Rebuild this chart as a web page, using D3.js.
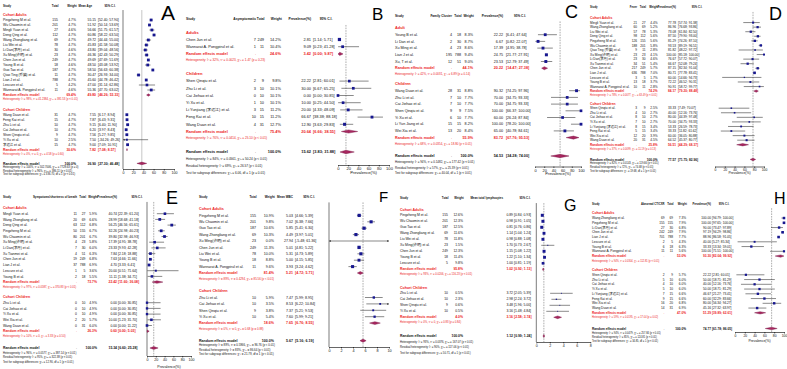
<!DOCTYPE html>
<html>
<head>
<meta charset="utf-8">
<script src="https://cdn.jsdelivr.net/npm/d3@7"></script>
<style>
  body { margin: 0; background: #fff; }
</style>
</head>
<body>
<svg id="fig" width="787" height="369"></svg>
<script>
// rows: [study, events, total, weight %, estimate, lower, upper]
const A_adults = [
  ["Pingzheng M et al.", null, 155, 4.7, 55.15, 52.40, 57.90],
  ["Wu Chaomin et al.", null, 201, 4.7, 51.92, 50.14, 53.69],
  ["Mingli Yuan et al.", null, 27, 4.6, 56.66, 51.75, 61.57],
  ["Deng Qing et al.", null, 112, 4.7, 60.86, 58.22, 63.50],
  ["Wang Zhongliang et al.", null, 69, 4.7, 49.72, 44.44, 55.00],
  ["Liu Wei et al.", null, 78, 4.7, 45.83, 41.58, 50.08],
  ["Li Dan(李丹) et al.", null, 30, 4.6, 43.80, 39.04, 48.56],
  ["Xu Ming(许明) et al.", null, 23, 4.7, 46.36, 42.43, 50.29],
  ["Chen Jun et al.", null, 249, 4.7, 49.69, 47.69, 51.69],
  ["Young B et al.", null, 18, 4.6, 48.50, 43.08, 53.92],
  ["Guo Tao et al.", null, 187, 4.7, 58.50, 56.63, 60.38],
  ["Qiao Ting (乔婷) et al.", null, 11, 4.7, 30.47, 26.93, 34.00],
  ["Lian J et al.", null, 788, 4.7, 45.60, 44.78, 46.42],
  ["Lescure et al.", null, 5, 4.2, 47.00, 31.14, 62.86],
  ["Wannarat A. Pongpirul et al.", null, 11, 4.6, 55.36, 47.70, 63.02]
];
const A_children = [
  ["Wang Duan et al.", null, 31, 4.7, 7.55, 6.17, 8.94],
  ["Feng Kai et al.", null, 15, 4.7, 7.87, 6.43, 9.31],
  ["Zhu Li et al.", null, 10, 4.7, 9.15, 6.40, 11.90],
  ["Cai Jiehao et al.", null, 10, 4.7, 6.20, 3.97, 8.43],
  ["Shen Qinqiu et al.", null, 9, 4.7, 7.56, 5.27, 9.85],
  ["Yi Xu et al.", null, 10, 2.5, 7.50, -34.26, 49.26],
  ["李运江 et al.", null, 15, 4.7, 9.00, 7.09, 10.91]
];
// random effects: [weight, est, lower, upper]
const A_re = [[69.4, 49.80, 46.26, 53.33], [30.6, 7.82, 7.08, 8.57], [100.0, 36.90, 27.30, 46.48]];
const A_het = [
  "Heterogeneity: I² = 98%, τ² = 41.2384, χ²₁₄ = 381.53 (p < 0.01)",
  "Heterogeneity: I² = 0%, τ² = 0, χ²₆ = 4.58 (p = 0.60)",
  "Heterogeneity: I² = 100%, τ² = 502.7006, χ²₂₁ = 7728.63 (p = 0)",
  "Residual heterogeneity: I² = 96%, χ²₂₀ = 386.11 (p < 0.01)",
  "Test for subgroup differences: χ²₁ = 336.70, df = 1 (p < 0.01)"
];

const B_adults = [
  ["Chen Jun et al.", 7, 249, 14.2, 2.81, 1.14, 5.71],
  ["Wannarat A. Pongpirul et al.", 1, 11, 10.4, 9.09, 0.23, 41.28]
];
const B_children = [
  ["Shen Qinqiu et al.", 2, 9, 9.8, 22.22, 2.81, 60.01],
  ["Zhu Li et al.", 3, 10, 10.1, 30.00, 6.67, 65.25],
  ["Cai Jiehao et al.", 0, 10, 10.1, 0.00, 0.00, 30.85],
  ["Yi Xu et al.", 1, 10, 10.1, 10.00, 0.25, 44.50],
  ["Li Yunjiang (李运江) et al.", 3, 15, 11.2, 20.00, 4.33, 48.09],
  ["Feng Kai et al.", 10, 15, 11.2, 66.67, 38.38, 88.18],
  ["Wang Duan et al.", 4, 31, 12.7, 12.90, 3.63, 29.83]
];
const B_re = [[24.6, 3.42, 0.00, 9.87], [75.4, 20.64, 6.66, 38.55], [100.0, 15.62, 3.83, 31.88]];
const B_het = [
  "Heterogeneity: I² = 32%, τ² = 0.0023, χ²₁ = 1.47 (p = 0.23)",
  "Heterogeneity: I² = 76%, τ² = 0.0414, χ²₆ = 25.10 (p < 0.01)",
  "Heterogeneity: I² = 84%, τ² = 0.0561, χ²₈ = 50.24 (p < 0.01)",
  "Residual heterogeneity: I² = 69%, χ²₇ = 26.57 (p < 0.01)",
  "Test for subgroup differences: χ²₁ = 6.06, df = 1 (p = 0.01)"
];

const C_adults = [
  ["Young B et al.", 4, 18, 8.3, 22.22, 6.41, 47.64],
  ["Li Dan et al.", 2, 30, 8.7, 6.67, 0.82, 22.07],
  ["Xu Ming et al.", 4, 23, 8.6, 17.39, 4.95, 38.78],
  ["Lian J et al.", 195, 788, 9.4, 24.75, 21.77, 27.91],
  ["Xu, T et al.", 12, 51, 9.0, 23.53, 12.79, 37.49]
];
const C_children = [
  ["Wang Duan et al.", 28, 31, 8.8, 90.32, 74.25, 97.96],
  ["Zhu Li et al.", 7, 10, 7.7, 70.00, 34.75, 93.33],
  ["Cai Jiehao et al.", 7, 10, 7.7, 70.00, 34.75, 93.33],
  ["Shen Qinqiu et al.", 9, 9, 7.5, 100.00, 66.37, 100.00],
  ["Yi Xu et al.", 6, 10, 7.7, 60.00, 26.24, 87.84],
  ["Li Yun Jiang et al.", 15, 15, 8.2, 100.00, 78.20, 100.00],
  ["Wei Xia et al.", 13, 20, 8.4, 65.00, 40.78, 84.61]
];
const C_re = [[44.1, 20.22, 14.47, 27.38], [55.9, 83.72, 67.76, 95.53], [100.0, 54.53, 34.28, 74.00]];
const C_het = [
  "Heterogeneity: I² = 42%, τ² = 0.0031, χ²₄ = 6.89 (p = 0.14)",
  "Heterogeneity: I² = 68%, τ² = 0.0354, χ²₆ = 18.80 (p < 0.01)",
  "Heterogeneity: I² = 94%, τ² = 0.1482, χ²₁₁ = 177.42 (p < 0.01)",
  "Residual heterogeneity: I² = 57%, χ²₁₀ = 25.39 (p < 0.01)",
  "Test for subgroup differences: χ²₁ = 40.04, df = 1 (p < 0.01)"
];

const D_adults = [
  ["Mingli Yuan et al.", 21, 27, 4.4, 77.78, 57.74, 91.38],
  ["Wang Zhongliang et al.", 60, 69, 5.2, 86.96, 76.68, 93.86],
  ["Liu Wei et al.", 57, 78, 5.3, 73.08, 61.84, 82.50],
  ["Deng Qing et al.", 98, 112, 5.6, 87.50, 79.90, 93.00],
  ["Pingzheng M et al.", 126, 155, 5.6, 81.29, 74.26, 87.10],
  ["Wu Chaomin et al.", 188, 201, 5.8, 93.53, 89.19, 96.51],
  ["Qiao Ting (乔婷) et al.", 9, 11, 2.8, 81.82, 48.22, 97.72],
  ["Xu Ming(许明) et al.", 23, 23, 4.1, 100.00, 85.18, 100.00],
  ["Li Dan(李丹) et al.", 23, 30, 4.6, 76.67, 57.72, 90.07],
  ["Xu Tianmei et al.", 34, 51, 5.4, 66.67, 52.08, 79.24],
  ["Chen Jun et al.", 217, 249, 5.7, 87.15, 82.34, 91.04],
  ["Lian J et al.", 636, 788, 7.0, 80.71, 77.78, 83.41],
  ["Lescure et al.", 3, 5, 1.7, 60.00, 14.66, 94.73],
  ["Young B et al.", 13, 18, 3.7, 72.22, 46.52, 90.31],
  ["Wannarat A. Pongpirul et al.", 10, 11, 2.8, 90.91, 58.72, 99.77]
];
const D_children = [
  ["Shen Qinqiu et al.", 3, 9, 2.5, 33.33, 7.49, 70.07],
  ["Zhu Li et al.", 4, 10, 2.7, 40.00, 12.16, 73.76],
  ["Cai Jiehao et al.", 8, 10, 2.7, 80.00, 44.39, 97.48],
  ["Yi Xu et al.", 7, 10, 2.7, 70.00, 34.75, 93.33],
  ["Li Yunjiang (李运江) et al.", 8, 15, 3.4, 53.33, 26.59, 78.73],
  ["Feng Kai et al.", 5, 15, 3.4, 33.33, 11.82, 61.62],
  ["Wei Xia et al.", 12, 20, 3.9, 60.00, 36.05, 80.88],
  ["Wang Duan et al.", 20, 31, 4.5, 64.52, 45.37, 80.77]
];
const D_re = [[74.2, 84.17, 79.20, 88.48], [25.8, 56.51, 44.29, 68.37], [100.0, 77.57, 71.75, 82.96]];
const D_het = [
  "Heterogeneity: I² = 78%, τ² = 0.0077, χ²₁₄ = 63.49 (p < 0.01)",
  "Heterogeneity: I² = 37%, τ² = 0.0099, χ²₇ = 11.19 (p = 0.13)",
  "Heterogeneity: I² = 82%, τ² = 0.0143, χ²₂₂ = 119.66 (p < 0.01)",
  "Residual heterogeneity: I² = 72%, χ²₂₁ = 74.68 (p < 0.01)",
  "Test for subgroup differences: χ²₁ = 19.68, df = 1 (p < 0.01)"
];

const E_adults = [
  ["Mingli Yuan et al.", 11, 27, 5.9, 40.74, 22.39, 61.20],
  ["Wang Zhongliang et al.", 20, 69, 6.6, 28.99, 18.68, 41.18],
  ["Deng Qing et al.", 63, 112, 6.8, 56.25, 46.56, 65.61],
  ["Pingzheng M et al.", 50, 155, 6.7, 32.26, 24.98, 40.23],
  ["Wu Chaomin et al.", 80, 201, 6.7, 39.80, 32.98, 46.93],
  ["Xu Ming(许明) et al.", 4, 23, 5.8, 17.39, 4.95, 38.78],
  ["Li Dan(李丹) et al.", 7, 30, 6.0, 23.33, 9.93, 42.28],
  ["Xu Tianmei et al.", 4, 51, 6.3, 7.84, 2.18, 18.88],
  ["Chen Jun et al.", 19, 249, 6.8, 7.63, 4.66, 11.66],
  ["Lian J et al.", 37, 788, 6.9, 4.70, 3.33, 6.41],
  ["Lescure et al.", 1, 5, 3.6, 20.00, 0.51, 71.64],
  ["Young B et al.", 2, 18, 5.5, 11.11, 1.38, 34.71]
];
const E_children = [
  ["Zhu Li et al.", 0, 10, 4.9, 0.00, 0.00, 30.85],
  ["Cai Jiehao et al.", 0, 10, 4.9, 0.00, 0.00, 30.85],
  ["Yi Xu et al.", 0, 10, 4.9, 0.00, 0.00, 30.85],
  ["Wei Xia et al.", 2, 20, 5.7, 10.00, 1.23, 31.70],
  ["Wang Duan et al.", 0, 31, 6.0, 0.00, 0.00, 11.22]
];
const E_re = [[73.7, 22.42, 11.60, 36.08], [26.3, 0.60, 0.00, 5.03], [100.0, 15.34, 6.60, 25.28]];
const E_het = [
  "Heterogeneity: I² = 97%, τ² = 0.0587, χ²₁₁ = 370.83 (p < 0.01)",
  "Heterogeneity: I² = 10%, τ² = 0, χ²₄ = 3.33 (p = 0.50)",
  "Heterogeneity: I² = 96%, τ² = 0.0577, χ²₁₆ = 387.14 (p < 0.01)",
  "Residual heterogeneity: I² = 95%, χ²₁₅ = 322.38 (p < 0.01)",
  "Test for subgroup differences: χ²₁ = 12.90, df = 1 (p < 0.01)"
];

const F_adults = [
  ["Pingzheng M et al.", null, 155, 10.9, 5.03, 4.66, 5.39],
  ["Wu Chaomin et al.", null, 201, 9.8, 7.02, 6.38, 7.66],
  ["Guo Tao et al.", null, 187, 10.6, 5.85, 5.41, 6.30],
  ["Wang Zhongliang et al.", null, 69, 10.3, 4.49, 3.97, 5.01],
  ["Xu Ming(许明) et al.", null, 23, 0.0, 27.94, -5.48, 61.36],
  ["Chen Jun et al.", null, 249, 11.3, 5.01, 4.81, 5.22],
  ["Liu Wei et al.", null, 78, 10.0, 5.31, 4.73, 5.89],
  ["Young B et al.", null, 18, 8.8, 5.00, 4.15, 5.85],
  ["Wannarat A. Pongpirul et al.", null, 11, 9.6, 3.93, 3.24, 4.62]
];
const F_children = [
  ["Zhu Li et al.", null, 10, 5.9, 7.47, 5.99, 8.95],
  ["Cai Jiehao et al.", null, 10, 3.5, 8.53, 6.22, 10.84],
  ["Shen Qinqiu et al.", null, 9, 3.8, 7.37, 5.21, 9.53],
  ["Yi Xu et al.", null, 10, 5.4, 7.60, 5.99, 9.21]
];
const F_re = [[81.4, 5.21, 4.72, 5.71], [18.6, 7.65, 6.76, 8.55], [100.0, 5.67, 5.16, 6.19]];
const F_het = [
  "Heterogeneity: I² = 89%, τ² = 0.4294, χ²₈ = 85.56 (p < 0.01)",
  "Heterogeneity: I² = 0%, τ² = 0, χ²₃ = 0.68 (p = 0.88)",
  "Heterogeneity: I² = 89%, τ² = 0.5966, χ²₁₂ = 96.76 (p < 0.01)",
  "Residual heterogeneity: I² = 83%, χ²₁₁ = 86.64 (p < 0.01)",
  "Test for subgroup differences: χ²₁ = 21.79, df = 1 (p < 0.01)"
];

const G_adults = [
  ["Pingzheng M et al.", null, 155, 12.6, 0.89, 0.84, 0.93],
  ["Wu Chaomin et al.", null, 201, 12.3, 0.98, 0.91, 1.05],
  ["Guo Tao et al.", null, 187, 12.5, 0.81, 0.76, 0.86],
  ["Wang Zhongliang et al.", null, 69, 11.6, 1.14, 1.04, 1.24],
  ["Liu Wei et al.", null, 78, 11.8, 0.98, 0.88, 1.08],
  ["Xu Ming(许明) et al.", null, 23, 1.5, 1.70, 0.73, 2.67],
  ["Chen Jun et al.", null, 249, 12.3, 1.15, 1.08, 1.22],
  ["Young B et al.", null, 18, 11.4, 1.22, 1.10, 1.34],
  ["Lescure et al.", null, 5, 9.8, 1.00, 0.81, 1.19]
];
const G_children = [
  ["Zhu Li et al.", null, 10, 0.5, 3.72, 2.05, 5.39],
  ["Cai Jiehao et al.", null, 10, 2.3, 2.98, 2.24, 3.72],
  ["Shen Qinqiu et al.", null, 9, 0.6, 3.48, 1.96, 5.00],
  ["Yi Xu et al.", null, 10, 0.5, 3.16, 1.48, 4.84]
];
const G_re = [[95.8, 1.02, 0.92, 1.13], [4.0, 3.16, 2.58, 3.74], [100.0, 1.12, 0.99, 1.24]];
const G_het = [
  "Heterogeneity: I² = 93%, τ² = 0.0206, χ²₈ = 116.23 (p < 0.01)",
  "Heterogeneity: I² = 0%, τ² = 0, χ²₃ = 0.83 (p = 0.84)",
  "Heterogeneity: I² = 93%, τ² = 0.0376, χ²₁₂ = 167.07 (p < 0.01)",
  "Residual heterogeneity: I² = 90%, χ²₁₁ = 117.06 (p < 0.01)",
  "Test for subgroup differences: χ²₁ = 50.71, df = 1 (p < 0.01)"
];

const H_adults = [
  ["Wang Zhongliang et al.", 69, 69, 7.3, 100.00, 94.79, 100.00],
  ["Pingzheng M et al.", 155, 155, 7.9, 100.00, 97.65, 100.00],
  ["Li Dan(李丹) et al.", 27, 30, 6.8, 90.00, 73.47, 97.89],
  ["Chen Jun et al.", 242, 249, 7.9, 97.19, 94.29, 98.86],
  ["Lian J et al.", 701, 788, 7.7, 88.96, 86.58, 91.05],
  ["Lescure et al.", 2, 5, 4.3, 40.00, 5.27, 85.34],
  ["Young B et al.", 6, 18, 6.3, 33.33, 13.34, 59.01],
  ["Wannarat A. Pongpirul et al.", 11, 11, 5.6, 100.00, 71.51, 100.00]
];
const H_children = [
  ["Shen Qinqiu et al.", 2, 9, 5.7, 22.22, 2.81, 60.01],
  ["Zhu Li et al.", 5, 10, 6.0, 50.00, 18.71, 81.29],
  ["Cai Jiehao et al.", 4, 10, 6.0, 40.00, 12.16, 73.76],
  ["Yi Xu et al.", 5, 10, 6.0, 50.00, 18.71, 81.29],
  ["Li Yunjiang (李运江) et al.", 7, 15, 6.6, 46.67, 21.27, 73.41],
  ["Feng Kai et al.", 9, 15, 6.6, 60.00, 32.29, 83.66],
  ["Wei Xia et al.", 16, 20, 6.8, 80.00, 56.34, 94.27],
  ["Wang Duan et al.", 14, 31, 6.9, 45.16, 27.32, 63.97]
];
const H_re = [[53.0, 93.30, 82.04, 99.92], [47.0, 51.29, 39.89, 62.61], [100.0, 74.77, 61.78, 86.05]];
const H_het = [
  "Heterogeneity: I² = 94%, τ² = 0.0304, χ²₇ = 112.81 (p < 0.01)",
  "Heterogeneity: I² = 59%, τ² = 0.0195, χ²₇ = 17.04 (p = 0.02)",
  "Heterogeneity: I² = 94%, τ² = 0.0479, χ²₁₆ = 257.84 (p < 0.01)",
  "Residual heterogeneity: I² = 85%, χ²₁₅ = 124.81 (p < 0.01)",
  "Test for subgroup differences: χ²₁ = 34.85, df = 1 (p < 0.01)"
];

const pctTicks = [0, 20, 40, 60, 80, 100];
const wbcTicks = [0, 2, 4, 6, 8, 10];
const lymTicks = [0, 2, 4, 6, 8];

const svg = d3.select("#fig");
const FONT = '"Liberation Sans", Arial, "Noto Sans CJK SC", sans-serif';
const RED = "#ec1c24";
const BLUE = "#17178f";
const DIA_FILL = "#a8275f";
const DIA_LINE = "#74103e";

const fmt = (v) => v.toFixed(2);
const ciTxt = (lo, hi) => "[" + fmt(lo) + "; " + fmt(hi) + "]";

function drawPanel(p) {
  const g = svg.append("g").attr("font-family", FONT);
  const x = d3.scaleLinear().domain(p.domain).range(p.xr);
  const fs = p.fs, c = p.cols;
  const hf = fs * 0.85;
  const [d0, d1] = p.domain;
  const maxW = d3.max(p.groups.flatMap((gr) => gr.rows.map((r) => r[3])));

  const put = (xx, yy, s, o = {}) =>
    g.append("text")
      .attr("x", xx).attr("y", yy).attr("dy", "0.35em")
      .attr("font-size", o.fs || fs)
      .attr("text-anchor", o.anchor || "start")
      .attr("font-weight", o.bold ? "bold" : null)
      .attr("fill", o.color || "#111")
      .text(s);

  // header
  put(c.study, p.yh, "Study", { bold: true, fs: hf });
  if (p.evHead) put(c.ev, p.yh, p.evHead, { bold: true, anchor: "end", fs: hf });
  put(c.tot + 0.5, p.yh, "Total", { bold: true, anchor: "end", fs: hf });
  put(c.wt + 0.8, p.yh, "Weight", { bold: true, anchor: "end", fs: hf });
  put(p.estHeadX || c.est, p.yh, p.estHead, { bold: true, anchor: "end", fs: hf });
  put(c.ciMid, p.yh, "95% C.I.", { bold: true, anchor: "middle", fs: hf });

  // vertical layout
  let y = p.g1;
  const lay = p.groups.map((gr) => {
    const lab = y;
    const rows = gr.rows.map((r, i) => lab + p.s * (i + 1));
    const re = lab + p.s * (gr.rows.length + 1);
    const het = re + p.hs;
    y = het + p.gap;
    return { lab, rows, re, het };
  });
  const yAll = lay[lay.length - 1].het + p.gap2;
  const yTop = p.yh + (p.g1 - p.yh) * 0.45;

  // reference / pooled lines
  if (p.ref0) {
    g.append("line")
      .attr("x1", x(0)).attr("x2", x(0)).attr("y1", yTop).attr("y2", p.axisY)
      .attr("stroke", "#222").attr("stroke-width", 0.6);
  }
  g.append("line")
    .attr("x1", x(p.overall[1])).attr("x2", x(p.overall[1]))
    .attr("y1", yTop).attr("y2", p.axisY)
    .attr("stroke", p.solidPool ? "#a0a0a0" : "#777")
    .attr("stroke-width", 0.6)
    .attr("stroke-dasharray", p.solidPool ? null : "1.6,1");

  const diamond = (s, yy, big) => {
    const h = p.dh * (big ? 1 : 0.9);
    const lo = Math.max(s[2], d0), hi = Math.min(s[3], d1);
    g.append("path")
      .attr("d", `M${x(lo)},${yy}L${x(s[1])},${yy - h / 2}L${x(hi)},${yy}L${x(s[1])},${yy + h / 2}Z`)
      .attr("fill", DIA_FILL).attr("stroke", DIA_LINE).attr("stroke-width", 0.4);
  };

  const arrow = (xx, yy, dir) => {
    g.append("path")
      .attr("d", `M${xx},${yy}L${xx - dir * 1.8},${yy - 1}L${xx - dir * 1.8},${yy + 1}Z`)
      .attr("fill", "#333");
  };

  p.groups.forEach((gr, gi) => {
    const L = lay[gi];
    put(c.study, L.lab, gr.name, { bold: true, color: RED, fs: fs * 1.05 });
    gr.rows.forEach((r, i) => {
      const yy = L.rows[i];
      put(c.study, yy, r[0]);
      if (r[1] != null) put(c.ev, yy, r[1], { anchor: "end" });
      put(c.tot, yy, r[2], { anchor: "end" });
      put(c.wt, yy, r[3].toFixed(1) + "%", { anchor: "end" });
      put(c.est, yy, fmt(r[4]), { anchor: "end" });
      put(c.ci, yy, ciTxt(r[5], r[6]));
      const lo = Math.max(r[5], d0), hi = Math.min(r[6], d1);
      g.append("line")
        .attr("x1", x(lo)).attr("x2", x(hi)).attr("y1", yy).attr("y2", yy)
        .attr("stroke", "#3a3a3a").attr("stroke-width", 0.6);
      if (r[6] > d1) arrow(x(d1), yy, 1);
      if (r[5] < d0) arrow(x(d0), yy, -1);
      if (r[4] >= d0 && r[4] <= d1 && r[3] > 0) {
        const b = Math.max(p.box * Math.sqrt(r[3] / maxW), 0.9);
        g.append("rect")
          .attr("x", x(r[4]) - b / 2).attr("y", yy - b / 2)
          .attr("width", b).attr("height", b)
          .attr("fill", BLUE);
      }
    });
    const s = gr.re;
    put(c.study, L.re, "Random effects model", { bold: true, color: RED });
    if (p.evHead) put(c.ev, L.re, ".", { color: RED, anchor: "end" });
    put(c.wt, L.re, s[0].toFixed(1) + "%", { bold: true, color: RED, anchor: "end" });
    put(c.est, L.re, fmt(s[1]), { bold: true, color: RED, anchor: "end" });
    put(c.ci, L.re, ciTxt(s[2], s[3]), { bold: true, color: RED });
    diamond(s, L.re, false);
    put(c.study, L.het, gr.het, { color: RED, fs: fs * 0.8 });
  });

  // overall
  const o = p.overall;
  put(c.study, yAll, "Random effects model", { bold: true });
  if (p.evHead) put(c.ev, yAll, ".", { anchor: "end" });
  put(c.wt, yAll, o[0].toFixed(1) + "%", { bold: true, anchor: "end" });
  put(c.est, yAll, fmt(o[1]), { bold: true, anchor: "end" });
  put(c.ci, yAll, ciTxt(o[2], o[3]), { bold: true });
  diamond(o, yAll, true);
  p.hetAll.forEach((t, i) => put(c.study, yAll + p.hl * (i + 1), t, { fs: fs * 0.8 }));

  // axis
  const ax = d3.axisBottom(x).tickValues(p.ticks).tickSize(1.5).tickSizeOuter(0).tickPadding(0.8);
  const axg = g.append("g").attr("transform", `translate(0,${p.axisY})`).call(ax);
  axg.attr("font-size", fs * 1.05).attr("font-family", FONT);
  axg.select(".domain").attr("stroke-width", 0.6);
  axg.selectAll(".tick line").attr("stroke-width", 0.6);
  axg.selectAll(".tick text").attr("fill", "#111");
  if (p.xTitle) put((p.xr[0] + p.xr[1]) / 2, p.titleY, p.xTitle, { anchor: "middle", fs: fs * 1.05 });

  // panel letter
  g.append("text")
    .attr("x", p.letter[1]).attr("y", p.letter[2])
    .attr("font-size", p.letter[3]).attr("fill", "#000")
    .text(p.letter[0]);
}

drawPanel({
  letter: ["A", 161, 20, 21],
  domain: [0, 100], xr: [123, 174], ticks: pctTicks, ref0: true, solidPool: true,
  cols: { study: 3, tot: 58, wt: 76, est: 96, ci: 98, ciMid: 110 },
  estHead: "Mean Age", estHeadX: 92,
  yh: 6, g1: 15, s: 5, hs: 4.4, gap: 10.3, gap2: 9.3, hl: 3.6, axisY: 169,
  fs: 3.4, box: 2.8, dh: 2.6,
  groups: [
    { name: "Cohort Adults", rows: A_adults, re: A_re[0], het: A_het[0] },
    { name: "Cohort Children", rows: A_children, re: A_re[1], het: A_het[1] }
  ],
  overall: A_re[2], hetAll: A_het.slice(2)
});

drawPanel({
  letter: ["B", 372, 20, 17],
  domain: [0, 100], xr: [338, 389], ticks: pctTicks,
  cols: { study: 186, ev: 256, tot: 264, wt: 281, est: 311, ci: 313, ciMid: 326 },
  evHead: "Asymptomatic", estHead: "Prevalence(%)",
  yh: 19, g1: 32.3, s: 7.2, hs: 6.2, gap: 13.8, gap2: 14.3, hl: 7, axisY: 165, titleY: 173, xTitle: "Prevalence(%)",
  fs: 3.9, box: 3.2, dh: 3.6,
  groups: [
    { name: "Adults", rows: B_adults, re: B_re[0], het: B_het[0] },
    { name: "Children", rows: B_children, re: B_re[1], het: B_het[1] }
  ],
  overall: B_re[2], hetAll: B_het.slice(2)
});

drawPanel({
  letter: ["C", 565, 18, 18],
  domain: [0, 100], xr: [535, 581], ticks: pctTicks,
  cols: { study: 395, ev: 452, tot: 461, wt: 473, est: 503, ci: 506, ciMid: 520 },
  evHead: "Family Cluster", estHead: "Prevalence(%)",
  yh: 16, g1: 28, s: 6.7, hs: 6, gap: 9.8, gap2: 12.4, hl: 5.8, axisY: 166.5, titleY: 174, xTitle: "Prevalence(%)",
  fs: 3.7, box: 3, dh: 3.4,
  groups: [
    { name: "Adult", rows: C_adults, re: C_re[0], het: C_het[0] },
    { name: "Children", rows: C_children, re: C_re[1], het: C_het[1] }
  ],
  overall: C_re[2], hetAll: C_het.slice(2)
});

drawPanel({
  letter: ["D", 769, 20, 18],
  domain: [0, 100], xr: [715, 764], ticks: pctTicks,
  cols: { study: 590, ev: 637, tot: 645.5, wt: 657.5, est: 676, ci: 678, ciMid: 697 },
  evHead: "Fever", estHead: "Prevalence(%)",
  yh: 7, g1: 18, s: 4.57, hs: 4.1, gap: 8.4, gap2: 10.6, hl: 3.9, axisY: 166.5, titleY: 173, xTitle: "Prevalence(%)",
  fs: 3.2, box: 2.6, dh: 2.6,
  groups: [
    { name: "Cohort Adults", rows: D_adults, re: D_re[0], het: D_het[0] },
    { name: "Cohort Children", rows: D_children, re: D_re[1], het: D_het[1] }
  ],
  overall: D_re[2], hetAll: D_het.slice(2)
});

drawPanel({
  letter: ["E", 166, 204, 18],
  domain: [0, 100], xr: [147, 191], ticks: pctTicks, ref0: true,
  cols: { study: 3, ev: 77, tot: 85.5, wt: 97, est: 117, ci: 118, ciMid: 137 },
  evHead: "Sympotoms/shortness of breath", estHead: "Prevalence(%)",
  yh: 197, g1: 208, s: 5.7, hs: 4.8, gap: 10.1, gap2: 12, hl: 4.6, axisY: 356, titleY: 366.5, xTitle: "Prevalence(%)",
  fs: 3.4, box: 2.8, dh: 2.8,
  groups: [
    { name: "Cohort Adults", rows: E_adults, re: E_re[0], het: E_het[0] },
    { name: "Cohort Children", rows: E_children, re: E_re[1], het: E_het[1] }
  ],
  overall: E_re[2], hetAll: E_het.slice(2)
});

drawPanel({
  letter: ["F", 379, 202, 15],
  domain: [0, 10], xr: [329, 389], ticks: wbcTicks, ref0: true,
  cols: { study: 199, tot: 256, wt: 274, est: 293, ci: 295, ciMid: 309 },
  estHead: "Mean WBC",
  yh: 197, g1: 209, s: 6.4, hs: 5.6, gap: 12.5, gap2: 12, hl: 4.5, axisY: 347,
  fs: 3.6, box: 3.3, dh: 3.2,
  groups: [
    { name: "Cohort Adults", rows: F_adults, re: F_re[0], het: F_het[0] },
    { name: "Cohort Children", rows: F_children, re: F_re[1], het: F_het[1] }
  ],
  overall: F_re[2], hetAll: F_het.slice(2)
});

drawPanel({
  letter: ["G", 564, 211, 16],
  domain: [0, 8], xr: [536.3, 590.3], ticks: lymTicks, ref0: true,
  cols: { study: 400, tot: 448, wt: 463, est: 513, ci: 514, ciMid: 525 },
  estHead: "Mean total lymphocytes", estHeadX: 503,
  yh: 198, g1: 209.3, s: 6, hs: 4.7, gap: 13.3, gap2: 14, hl: 5.7, axisY: 342,
  fs: 3.4, box: 3, dh: 3,
  groups: [
    { name: "Cohort Adults", rows: G_adults, re: G_re[0], het: G_het[0] },
    { name: "Cohort Children", rows: G_children, re: G_re[1], het: G_het[1] }
  ],
  overall: G_re[2], hetAll: G_het.slice(2)
});

drawPanel({
  letter: ["H", 774, 204, 16],
  domain: [0, 100], xr: [735, 784], ticks: pctTicks,
  cols: { study: 592, ev: 664.5, tot: 673, wt: 686, est: 711, ci: 712, ciMid: 724 },
  evHead: "Abnormal CT/CXR", estHead: "Prevalence(%)",
  yh: 204, g1: 213.3, s: 4.75, hs: 4.7, gap: 9.3, gap2: 11, hl: 4.2, axisY: 332, titleY: 341, xTitle: "Prevalence(%)",
  fs: 3.2, box: 2.6, dh: 2.6,
  groups: [
    { name: "Cohort Adults", rows: H_adults, re: H_re[0], het: H_het[0] },
    { name: "Cohort Children", rows: H_children, re: H_re[1], het: H_het[1] }
  ],
  overall: H_re[2], hetAll: H_het.slice(2)
});
</script>
</body>
</html>
